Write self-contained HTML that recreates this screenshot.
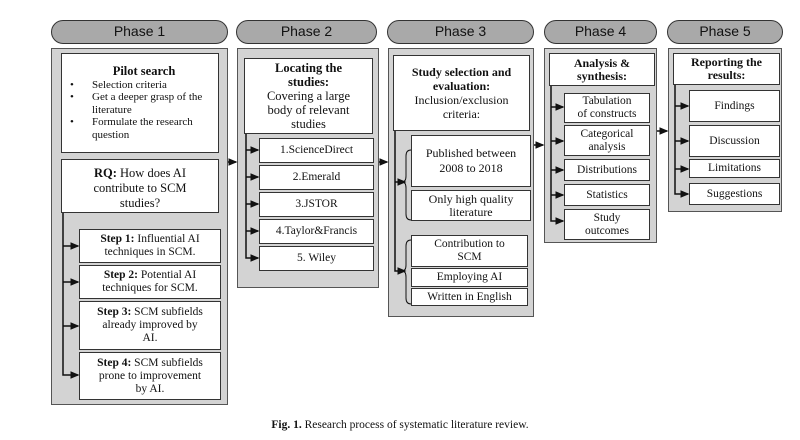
<!DOCTYPE html>
<html><head><meta charset="utf-8"><style>
body{margin:0;width:800px;height:440px;background:#fff;position:relative;overflow:hidden;font-family:"Liberation Serif",serif;color:#111}
.a{position:absolute;box-sizing:border-box}
.pill{border:1.5px solid #333;border-radius:12px;background:#a9a9a9;font-family:"Liberation Sans",sans-serif;font-size:14px;text-align:center;line-height:20px;color:#111}
.panel{border:1.5px solid #555;background:#d3d3d3}
.box{border:1.5px solid #333;background:#fff;text-align:center;font-size:11.5px;line-height:13px;display:flex;align-items:center;justify-content:center;flex-direction:column}
b{font-weight:bold}
</style></head><body>
<div class="a pill" style="left:51px;top:20px;width:177px;height:24px">Phase 1</div>
<div class="a pill" style="left:236px;top:20px;width:141px;height:24px">Phase 2</div>
<div class="a pill" style="left:387px;top:20px;width:147px;height:24px">Phase 3</div>
<div class="a pill" style="left:544px;top:20px;width:113px;height:24px">Phase 4</div>
<div class="a pill" style="left:667px;top:20px;width:116px;height:24px">Phase 5</div>

<div class="a panel" style="left:51px;top:48px;width:177px;height:357px"></div>
<div class="a panel" style="left:237px;top:48px;width:142px;height:240px"></div>
<div class="a panel" style="left:388px;top:48px;width:146px;height:269px"></div>
<div class="a panel" style="left:544px;top:48px;width:113px;height:195px"></div>
<div class="a panel" style="left:668px;top:48px;width:114px;height:164px"></div>

<div class="a box" style="left:61px;top:53px;width:158px;height:100px;display:block;text-align:left;padding:11px 0 0 8px;font-size:11px;line-height:12.5px">
<div style="text-align:center;font-weight:bold;font-size:12.5px;margin-bottom:1px">Pilot search</div>
<div style="position:relative;padding-left:22px">
<span style="position:absolute;left:0">•</span>Selection criteria<br>
<span style="position:absolute;left:0;top:12.5px">•</span>Get a deeper grasp of the literature<br>
<span style="position:absolute;left:0;top:37.5px">•</span>Formulate the research question</div></div>
<div class="a box" style="left:61px;top:159px;width:158px;height:54px;justify-content:flex-start;padding-top:6px;font-size:12.5px;line-height:15px"><div><b>RQ:</b> How does AI<br>contribute to SCM<br>studies?</div></div>
<div class="a box" style="left:79px;top:229px;width:142px;height:34px"><div><b>Step 1:</b> Influential AI<br>techniques in SCM.</div></div>
<div class="a box" style="left:79px;top:265px;width:142px;height:34px"><div><b>Step 2:</b> Potential AI<br>techniques for SCM.</div></div>
<div class="a box" style="left:79px;top:301px;width:142px;height:49px"><div><b>Step 3:</b> SCM subfields<br>already improved by<br>AI.</div></div>
<div class="a box" style="left:79px;top:352px;width:142px;height:48px"><div><b>Step 4:</b> SCM subfields<br>prone to improvement<br>by AI.</div></div>

<div class="a box" style="left:244px;top:58px;width:129px;height:76px;font-size:12.5px;line-height:14px"><div><b>Locating the<br>studies:</b><br>Covering a large<br>body of relevant<br>studies</div></div>
<div class="a box" style="left:259px;top:138px;width:115px;height:25px">1.ScienceDirect</div>
<div class="a box" style="left:259px;top:165px;width:115px;height:25px">2.Emerald</div>
<div class="a box" style="left:259px;top:192px;width:115px;height:25px">3.JSTOR</div>
<div class="a box" style="left:259px;top:219px;width:115px;height:25px">4.Taylor&amp;Francis</div>
<div class="a box" style="left:259px;top:246px;width:115px;height:25px">5. Wiley</div>

<div class="a box" style="left:393px;top:55px;width:137px;height:76px;font-size:12px;line-height:14px"><div><b>Study selection and<br>evaluation:</b><br>Inclusion/exclusion<br>criteria:</div></div>
<div class="a box" style="left:411px;top:135px;width:120px;height:52px;font-size:12px;line-height:15px"><div>Published between<br>2008 to 2018</div></div>
<div class="a box" style="left:411px;top:190px;width:120px;height:31px;font-size:12px"><div>Only high quality<br>literature</div></div>
<div class="a box" style="left:411px;top:235px;width:117px;height:32px"><div>Contribution to<br>SCM</div></div>
<div class="a box" style="left:411px;top:268px;width:117px;height:19px">Employing AI</div>
<div class="a box" style="left:411px;top:288px;width:117px;height:18px">Written in English</div>

<div class="a box" style="left:549px;top:53px;width:106px;height:33px;font-size:12px"><div><b>Analysis &amp;<br>synthesis:</b></div></div>
<div class="a box" style="left:564px;top:93px;width:86px;height:30px"><div>Tabulation<br>of constructs</div></div>
<div class="a box" style="left:564px;top:125px;width:86px;height:31px"><div>Categorical<br>analysis</div></div>
<div class="a box" style="left:564px;top:159px;width:86px;height:22px">Distributions</div>
<div class="a box" style="left:564px;top:184px;width:86px;height:22px">Statistics</div>
<div class="a box" style="left:564px;top:209px;width:86px;height:31px"><div>Study<br>outcomes</div></div>

<div class="a box" style="left:673px;top:53px;width:107px;height:32px;font-size:12px"><div><b>Reporting the<br>results:</b></div></div>
<div class="a box" style="left:689px;top:90px;width:91px;height:32px">Findings</div>
<div class="a box" style="left:689px;top:125px;width:91px;height:32px">Discussion</div>
<div class="a box" style="left:689px;top:159px;width:91px;height:19px">Limitations</div>
<div class="a box" style="left:689px;top:183px;width:91px;height:22px">Suggestions</div>

<svg class="a" style="left:0;top:0" width="800" height="440">
<defs><marker id="m" markerWidth="6" markerHeight="6" refX="5" refY="3" orient="auto"><path d="M0,0.5L6,3L0,5.5z" fill="#111"/></marker></defs>
<g stroke="#111" stroke-width="1.5" fill="none" marker-end="url(#m)">
<path d="M63,213V375H78"/>
<path d="M63,246H78"/><path d="M63,282H78"/><path d="M63,326H78"/>
<path d="M246,134V258H258"/>
<path d="M246,150H258"/><path d="M246,177H258"/><path d="M246,204H258"/><path d="M246,231H258"/>
<path d="M395,131V271H405"/>
<path d="M395,182H405"/>
<path d="M551,86V221H563"/>
<path d="M551,107H563"/><path d="M551,141H563"/><path d="M551,170H563"/><path d="M551,195H563"/>
<path d="M675,85V194H688"/>
<path d="M675,106H688"/><path d="M675,141H688"/><path d="M675,169H688"/>
<path d="M228,162H236"/><path d="M379,162H387"/><path d="M534,145H543"/><path d="M657,131H667"/>
</g>
<g stroke="#111" fill="none" stroke-width="1">
<path d="M411,150Q406,150 406,156V176Q406,182 402,182Q406,182 406,188V214Q406,220 411,220"/>
<path d="M411,240Q406,240 406,246V265Q406,271 402,271Q406,271 406,277V298Q406,304 411,304"/>
</g></svg>
<div class="a" style="left:0;top:419px;width:800px;text-align:center;font-size:11.5px"><b>Fig. 1.</b> Research process of systematic literature review.</div>
</body></html>
